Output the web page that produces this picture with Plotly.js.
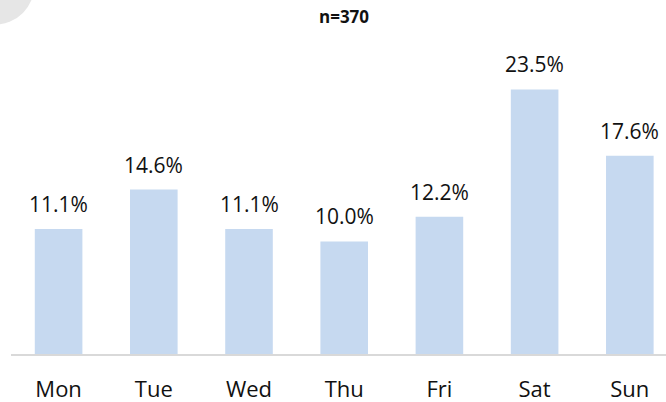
<!DOCTYPE html>
<html>
<head>
<meta charset="utf-8">
<script src="https://cdn.plot.ly/plotly-3.0.1.min.js"></script>
<style>html,body{margin:0;padding:0;background:#fff;}#chart{width:666px;height:402px;}</style>
</head>
<body>
<div id="chart"></div>
<script>
const days = ["Mon", "Tue", "Wed", "Thu", "Fri", "Sat", "Sun"];
const shares = [11.1, 14.6, 11.1, 10.0, 12.2, 23.5, 17.6];
const labels = ["11.1%", "14.6%", "11.1%", "10.0%", "12.2%", "23.5%", "17.6%"];
const sampleNote = "n=370";

const FONT = "'Open Sans', 'Noto Sans', sans-serif";

const trace = {
  type: "bar",
  x: days,
  y: shares,
  marker: {color: "#c6d9f0"},
  hoverinfo: "skip"
};

const valueAnnotations = days.map((d, i) => ({
  x: d, y: shares[i], xref: "x", yref: "y",
  text: labels[i], showarrow: false,
  yanchor: "bottom", yshift: 9,
  font: {family: FONT, size: 21, color: "#111111"}
}));

const layout = {
  width: 666, height: 402,
  margin: {l: 11, r: 0, t: 50, b: 48},
  paper_bgcolor: "#ffffff", plot_bgcolor: "#ffffff",
  showlegend: false,
  bargap: 0.5,
  xaxis: {
    type: "category",
    range: [-0.5, 6.38],
    showline: true, linecolor: "#d9d9d9", linewidth: 2,
    showgrid: false, zeroline: false, ticks: "",
    ticklabelstandoff: 15,
    tickfont: {family: FONT, size: 22, color: "#111111"},
    fixedrange: true
  },
  yaxis: {
    range: [0, 27],
    visible: false, showgrid: false, zeroline: false,
    fixedrange: true
  },
  annotations: valueAnnotations.concat([{
    xref: "paper", yref: "paper", x: 0.509, y: 1.109,
    xanchor: "center", yanchor: "middle",
    text: "<b>" + sampleNote + "</b>", showarrow: false,
    font: {family: FONT, size: 17, color: "#111111"}
  }]),
  shapes: [{
    type: "circle", xref: "paper", yref: "paper",
    x0: -0.0847, x1: 0.0359, y0: 1.084, y1: 1.344,
    fillcolor: "#e6e6e6", line: {width: 0}, layer: "below"
  }]
};

Plotly.newPlot("chart", [trace], layout, {displayModeBar: false, staticPlot: true});
</script>
</body>
</html>
